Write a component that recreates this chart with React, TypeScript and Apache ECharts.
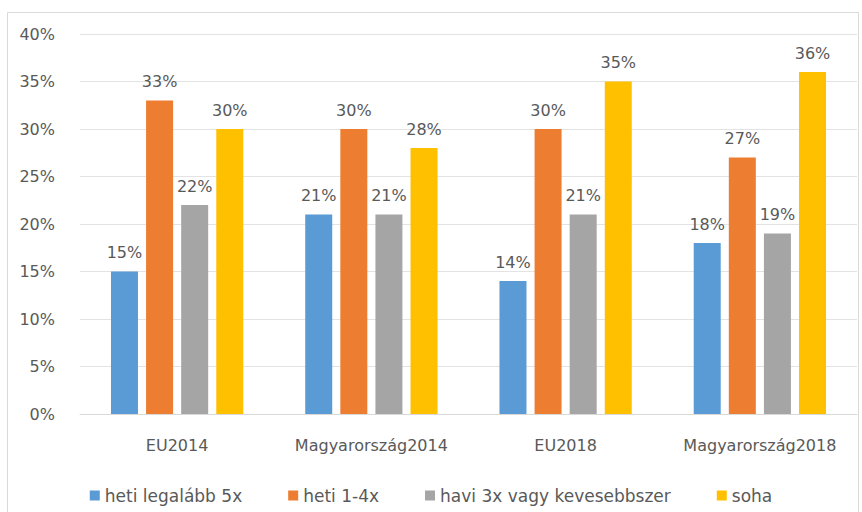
import React, { useEffect, useRef } from "react";
import * as echarts from "echarts";

const categories = ["EU2014", "Magyarország2014", "EU2018", "Magyarország2018"];
const seriesNames = ["heti legalább 5x", "heti 1-4x", "havi 3x vagy kevesebbszer", "soha"];
const hetiLegalabb5x = [15, 21, 14, 18];
const heti14x = [33, 30, 30, 27];
const havi3x = [22, 21, 21, 19];
const soha = [30, 28, 35, 36];
const seriesValues = [hetiLegalabb5x, heti14x, havi3x, soha];
const colors = ["#5B9BD5", "#ED7D31", "#A5A5A5", "#FFC000"];

export default function App() {
  const ref = useRef<HTMLDivElement>(null);
  useEffect(() => {
    if (!ref.current) return;
    const chart = echarts.init(ref.current, undefined, { renderer: "svg" });
    const font = "'DejaVu Sans', 'Open Sans', sans-serif";
    const fs = 16;
    chart.setOption({
      animation: false,
      textStyle: { fontFamily: font },
      graphic: [
        {
          type: "rect",
          shape: { x: 7.5, y: 12.5, width: 851, height: 520 },
          style: { fill: "none", stroke: "#D9D9D9", lineWidth: 1 },
          silent: true,
        },
      ],
      grid: { left: 80, right: 5, top: 34, bottom: 98, containLabel: false },
      legend: {
        top: 482,
        left: "center",
        itemWidth: 10,
        itemHeight: 10,
        itemGap: 46,
        icon: "rect",
        textStyle: { fontSize: 17, color: "#595959", fontFamily: font },
        data: seriesNames,
      },
      xAxis: {
        type: "category",
        data: categories,
        axisTick: { show: false },
        axisLine: { lineStyle: { color: "#D9D9D9" } },
        axisLabel: { fontSize: fs, color: "#595959", margin: 23, interval: 0, fontFamily: font },
      },
      yAxis: {
        type: "value",
        min: 0,
        max: 40,
        interval: 5,
        axisLabel: { formatter: "{value}%", fontSize: fs, color: "#595959", margin: 25, fontFamily: font },
        splitLine: { lineStyle: { color: "#E3E3E3" } },
        axisLine: { show: false },
        axisTick: { show: false },
      },
      series: seriesNames.map((name, i) => ({
        name,
        type: "bar",
        data: seriesValues[i],
        barWidth: 27,
        barGap: "30%",
        itemStyle: { color: colors[i] },
        label: {
          show: true,
          position: "top",
          distance: 11,
          formatter: "{c}%",
          fontSize: fs,
          color: "#595959",
          fontFamily: font,
        },
      })),
    });
    return () => chart.dispose();
  }, []);
  return (
    <div
      ref={ref}
      style={{ position: "fixed", left: 0, top: 0, width: 862, height: 512, background: "#fff" }}
    />
  );
}
